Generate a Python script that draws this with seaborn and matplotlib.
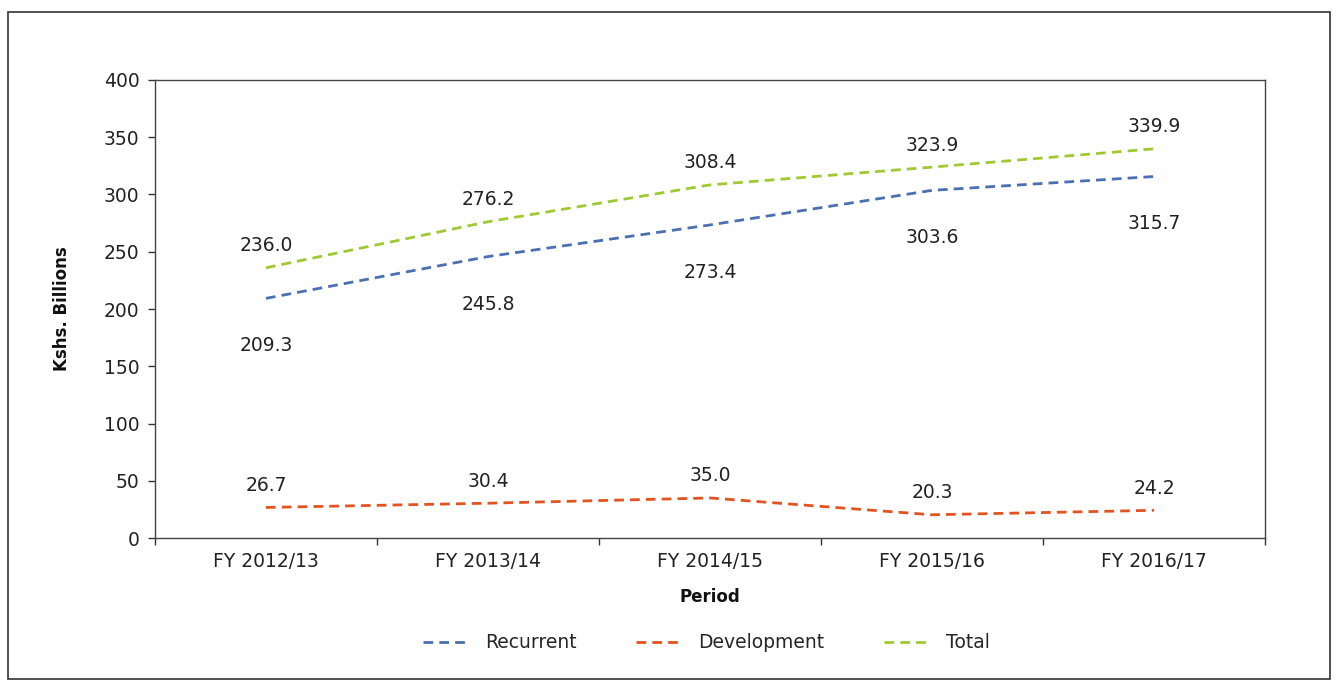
import pandas as pd
import seaborn as sns
import matplotlib.pyplot as plt
from matplotlib.lines import Line2D
from matplotlib.patches import Rectangle

periods = ['FY 2012/13', 'FY 2013/14', 'FY 2014/15', 'FY 2015/16', 'FY 2016/17']
recurrent = [209.3, 245.8, 273.4, 303.6, 315.7]
development = [26.7, 30.4, 35.0, 20.3, 24.2]
total = [236.0, 276.2, 308.4, 323.9, 339.9]

series_names = ['Recurrent', 'Development', 'Total']
colors = {'Recurrent': '#4a6fb3', 'Development': '#e2531f', 'Total': '#9fc932'}
# label offset in points (below for recurrent, above for the others)
label_offset = {'Recurrent': -41, 'Development': 9, 'Total': 9}

sns.set_theme(style='white')
plt.rcParams['font.family'] = ['DejaVu Sans']

df = pd.DataFrame({'period': periods * 3,
                   'value': recurrent + development + total,
                   'series': [s for s in series_names for _ in periods]})

fig = plt.figure(figsize=(13.38, 6.86), dpi=100)
ax = fig.add_axes([0.1158, 0.2157, 0.8296, 0.6677])

for name in series_names:
    sub = df[df['series'] == name]
    sns.lineplot(data=sub, x='period', y='value', ax=ax, color=colors[name],
                 linewidth=2.0, legend=False, sort=False)
    ax.lines[-1].set_dashes((3.5, 2.2))
    for i, v in enumerate(sub['value']):
        ax.annotate(f'{v:.1f}', (i, v), xytext=(0, label_offset[name]),
                    textcoords='offset points', ha='center', va='bottom',
                    fontsize=13.5, color='#222222')

ax.set_xlim(-0.5, len(periods) - 0.5)
ax.set_ylim(0, 400)
ax.set_yticks(range(0, 401, 50))
ax.set_xticks(range(len(periods)))
ax.set_xticklabels(periods)
ax.set_xticks([i + 0.5 for i in range(-1, len(periods))], minor=True)
ax.tick_params(axis='x', which='major', length=0, pad=10, labelsize=13.5, colors='#222222')
ax.tick_params(axis='x', which='minor', length=5, width=1, direction='out', color='#333333', bottom=True)
ax.tick_params(axis='y', length=5, width=1, direction='out', left=True, pad=6,
               labelsize=13.5, colors='#333333', labelcolor='#222222')

for sp in ax.spines.values():
    sp.set_color('#444444')
    sp.set_linewidth(1.0)

ax.set_xlabel('Period', fontsize=12, fontweight='bold', labelpad=12, color='#111111')
ax.set_ylabel('Kshs. Billions', fontsize=12, fontweight='bold', labelpad=24, color='#111111')

handles = [Line2D([0], [0], color=colors[n], lw=2.0, dashes=(3.5, 2.2)) for n in series_names]
fig.legend(handles, series_names, loc='center', bbox_to_anchor=(0.528, 0.063), ncol=3,
           frameon=False, fontsize=13.5, handlelength=2.5, columnspacing=3.2,
           handletextpad=0.8)

fig.patches.append(Rectangle((0.006, 0.01), 0.988, 0.973, transform=fig.transFigure,
                             fill=False, edgecolor='#333333', linewidth=1.2))

fig.savefig('out.png', dpi=100)
